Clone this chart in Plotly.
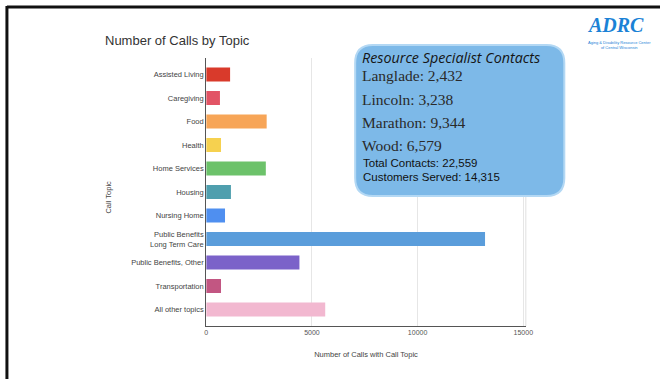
import plotly.graph_objects as go

W, H = 667, 379

topics = ["Assisted Living", "Caregiving", "Food", "Health", "Home Services", "Housing",
          "Nursing Home", "Public Benefits<br>Long Term Care", "Public Benefits, Other",
          "Transportation", "All other topics"]
calls = [1130, 650, 2860, 700, 2820, 1170, 890, 13190, 4410, 700, 5630]
colors = ["#d93a2b", "#e25465", "#f7a557", "#f6d14f", "#6cc26a", "#4f9fae",
          "#4f8ff0", "#5a9ddb", "#7b62c9", "#c25682", "#f2b8d0"]
x_ticks = [0, 5000, 10000, 15000]

box_lines_serif = ["Langlade: 2,432", "Lincoln: 3,238", "Marathon: 9,344", "Wood: 6,579"]
box_lines_sans = ["Total Contacts: 22,559", "Customers Served: 14,315"]


def px(x):
    return x / W


def py(y):
    return 1 - y / H


fig = go.Figure()
fig.add_trace(go.Bar(
    x=calls, y=list(range(len(topics))), orientation="h",
    marker=dict(color=colors, line=dict(width=0)), width=0.6,
    hoverinfo="skip", showlegend=False,
))

fig.update_layout(
    width=W, height=H, margin=dict(l=0, r=0, t=0, b=0),
    paper_bgcolor="white", plot_bgcolor="white",
    xaxis=dict(domain=[px(207), px(531)], range=[0, 15120], tickvals=x_ticks,
               ticktext=[str(v) for v in x_ticks], showgrid=True, gridcolor="#e6e6e6",
               gridwidth=1, zeroline=False, showline=True, linecolor="#555", linewidth=1,
               tickfont=dict(family="Liberation Sans", size=7, color="#555"),
               ticks="", title=dict(text="Number of Calls with Call Topic",
                                    font=dict(family="Liberation Sans", size=7.5, color="#444"),
                                    standoff=16)),
    yaxis=dict(domain=[py(326), py(58)], range=[10.7, -0.7], tickvals=list(range(len(topics))),
               ticktext=topics, showgrid=False, zeroline=False, showline=True,
               linecolor="#555", linewidth=1, ticks="",
               tickfont=dict(family="Liberation Sans", size=7.5, color="#444")),
    font=dict(family="Liberation Sans"),
)

shapes = []
# slide frame
shapes.append(dict(type="line", xref="paper", yref="paper", x0=px(5), x1=1.0, y0=py(7), y1=py(7),
                   line=dict(color="#111", width=3)))
shapes.append(dict(type="line", xref="paper", yref="paper", x0=px(5), x1=px(5), y0=py(6), y1=0,
                   line=dict(color="#111", width=3)))
# right border of plot
shapes.append(dict(type="line", xref="paper", yref="paper", x0=px(531), x1=px(531), y0=py(326), y1=py(58),
                   line=dict(color="#e0e0e0", width=1)))

# rounded box
x0, x1, y0, y1, r = 358, 570, 45, 196, 18
path = (f"M {px(x0 + r)} {py(y0)} L {px(x1 - r)} {py(y0)} "
        f"Q {px(x1)} {py(y0)} {px(x1)} {py(y0 + r)} "
        f"L {px(x1)} {py(y1 - r)} Q {px(x1)} {py(y1)} {px(x1 - r)} {py(y1)} "
        f"L {px(x0 + r)} {py(y1)} Q {px(x0)} {py(y1)} {px(x0)} {py(y1 - r)} "
        f"L {px(x0)} {py(y0 + r)} Q {px(x0)} {py(y0)} {px(x0 + r)} {py(y0)} Z")
shapes.append(dict(type="path", xref="paper", yref="paper", path=path,
                   fillcolor="#7db9e8", line=dict(color="#b3d8f4", width=2), layer="above"))
fig.update_layout(shapes=shapes)

ann = []
ann.append(dict(text="Number of Calls by Topic", x=px(102), y=py(40), xref="paper", yref="paper",
                xanchor="left", yanchor="middle", showarrow=False,
                font=dict(family="Liberation Sans", size=13, color="#333")))
ann.append(dict(text="Call Topic", x=px(107), y=py(197), xref="paper", yref="paper",
                xanchor="center", yanchor="middle", showarrow=False, textangle=-90,
                font=dict(family="Liberation Sans", size=7.5, color="#444")))
ann.append(dict(text="<i>Resource Specialist Contacts</i>", x=px(363), y=py(57), xref="paper", yref="paper",
                xanchor="left", yanchor="middle", showarrow=False,
                font=dict(family="Open Sans", size=14.3, color="#151515")))
for i, t in enumerate(box_lines_serif):
    ann.append(dict(text=t, x=px(363), y=py(76 + i * 23.3), xref="paper", yref="paper",
                    xanchor="left", yanchor="middle", showarrow=False,
                    font=dict(family="Liberation Serif", size=15.5, color="#2a2a2a")))
for i, t in enumerate(box_lines_sans):
    ann.append(dict(text=t, x=px(364), y=py(163 + i * 14), xref="paper", yref="paper",
                    xanchor="left", yanchor="middle", showarrow=False,
                    font=dict(family="Liberation Sans", size=11.5, color="#111")))
# logo
ann.append(dict(text="<b><i>ADRC</i></b>", x=px(622), y=py(25), xref="paper", yref="paper",
                xanchor="center", yanchor="middle", showarrow=False,
                font=dict(family="Liberation Serif", size=20, color="#1b82d6")))
ann.append(dict(text="Aging & Disability Resource Center<br>of Central Wisconsin", x=px(626), y=py(45),
                xref="paper", yref="paper", xanchor="center", yanchor="middle", showarrow=False,
                font=dict(family="Liberation Sans", size=4, color="#1b82d6")))
fig.update_layout(annotations=ann)

fig.write_html("out.html")
